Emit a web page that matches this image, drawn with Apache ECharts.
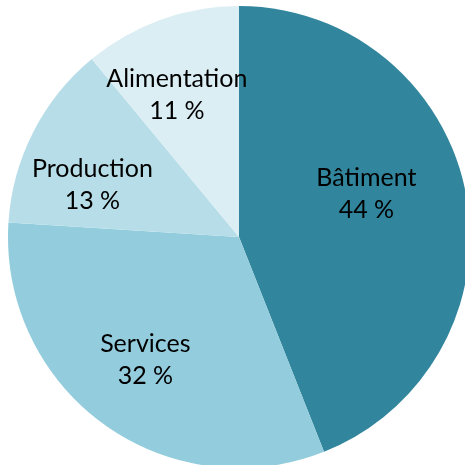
<!DOCTYPE html>
<html><head><meta charset="utf-8">
<script src="https://cdn.jsdelivr.net/npm/echarts@6/dist/echarts.min.js"></script>
<style>html,body{margin:0;padding:0;background:#fff}#c{width:465px;height:465px}</style>
</head><body><div id="c"></div>
<script>
var categories = ['Bâtiment', 'Services', 'Production', 'Alimentation'];
var values = [44, 32, 13, 11];
var colors = ['#31859C', '#93CDDD', '#B7DEE8', '#DBEEF4'];
var labelOffsets = [[11, -21], [-24, 27], [-41, 2], [-22, -31]];

var chart = echarts.init(document.getElementById('c'));
chart.setOption({
  animation: false,
  series: [{
    type: 'pie',
    center: [239, 237],
    radius: [0, 231],
    startAngle: 90,
    clockwise: true,
    avoidLabelOverlap: false,
    itemStyle: { borderWidth: 0 },
    label: {
      show: true,
      position: 'inside',
      formatter: function (p) { return p.name + '\n' + p.value + ' %'; },
      fontFamily: 'Lato',
      fontSize: 25,
      lineHeight: 32,
      color: '#000'
    },
    labelLine: { show: false },
    data: categories.map(function (c, i) {
      return { name: c, value: values[i], itemStyle: { color: colors[i] }, label: { offset: labelOffsets[i] } };
    })
  }]
});
</script></body></html>
